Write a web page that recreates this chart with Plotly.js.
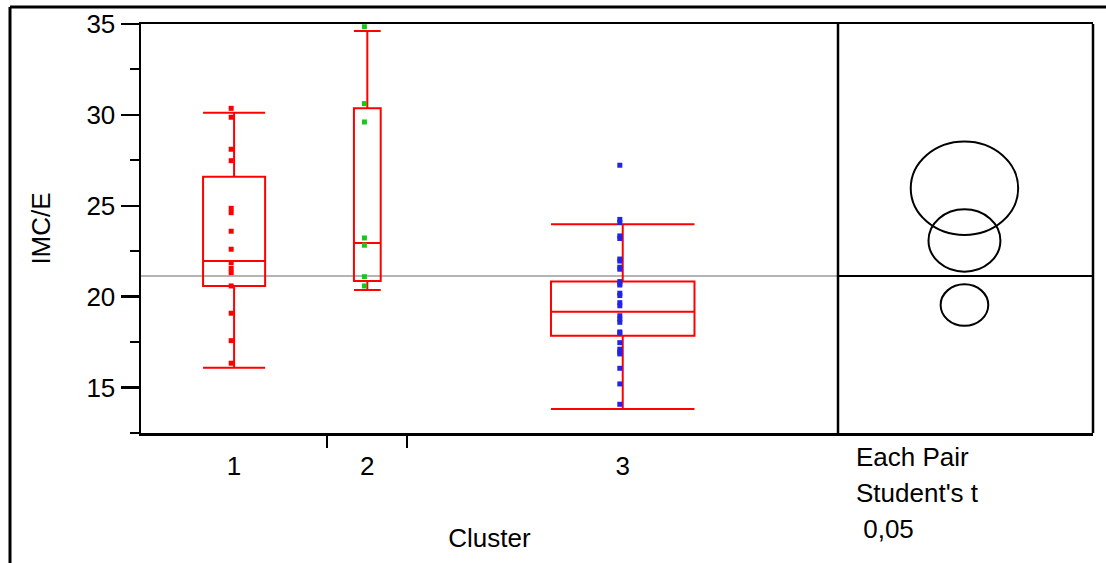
<!DOCTYPE html>
<html>
<head>
<meta charset="utf-8">
<script src="https://cdn.plot.ly/plotly-3.0.1.min.js"></script>
<style>html,body{margin:0;padding:0;background:#fff}#chart{width:1106px;height:563px}</style>
</head>
<body>
<div id="chart"></div>
<script>
// ---- data ----
const clusterLabels = ['1', '2', '3'];
const cluster1 = [30.36, 29.87, 28.11, 27.48, 24.86, 24.62, 23.60, 22.61, 21.87, 21.56, 21.32, 20.59, 19.09, 17.58, 16.34];
const cluster2 = [34.85, 30.62, 29.61, 23.23, 22.83, 21.10, 20.59];
const cluster3 = [27.23, 24.25, 24.08, 23.34, 23.20, 22.07, 21.96, 21.62, 21.51, 20.83, 20.73, 20.64,
                  20.19, 20.06, 19.67, 19.50, 18.95, 18.77, 18.59, 18.06, 18.00, 17.47, 17.11, 16.96,
                  16.85, 16.06, 15.20, 14.08];
const boxLower  = [16.09, 20.37, 13.82];
const boxQ1     = [20.59, 20.86, 17.85];
const boxMedian = [21.96, 22.95, 19.17];
const boxQ3     = [26.60, 30.36, 20.83];
const boxUpper  = [30.12, 34.61, 23.98];
const grandMean = 21.14;
const circleMeans = [23.09, 25.96, 19.54];
const circleRadii = [1.72, 2.57, 1.14];
const yTickVals = [15, 20, 25, 30, 35];
const noteLines = ['Each Pair', "Student's t", ' 0,05'];

// ---- layout config ----
const groupSpan = [16, 6.9, 37];   // relative width of each category (JMP proportional widths)
const pointColors = ['#ff0000', '#18c818', '#2424e6'];
const boxColor = '#ff0000';
const font = '"Liberation Sans", Arial, sans-serif';
const fs = 26;
const divide = (838 - 141) / 952;
const x2Range = [0, 12.2];
const circleX = 6.05;
const xAspect = 1.0;

const groups = [cluster1, cluster2, cluster3];
const starts = [], centers = [];
let acc = 0;
groupSpan.forEach(w => { starts.push(acc); centers.push(acc + w / 2); acc += w; });
const total = acc;
const pointShift = -0.25;

const data = [];
groups.forEach((g, i) => {
  data.push({
    type: 'box', x: [centers[i]], q1: [boxQ1[i]], median: [boxMedian[i]], q3: [boxQ3[i]],
    lowerfence: [boxLower[i]], upperfence: [boxUpper[i]],
    width: groupSpan[i] / 3, whiskerwidth: 1,
    line: {color: boxColor, width: 2}, fillcolor: 'rgba(0,0,0,0)',
    boxpoints: false, hoverinfo: 'skip', xaxis: 'x', yaxis: 'y'
  });
  data.push({
    type: 'scatter', mode: 'markers', x: g.map(() => centers[i] + pointShift), y: g,
    marker: {symbol: 'square', size: 5, color: pointColors[i], line: {width: 0}},
    xaxis: 'x', yaxis: 'y', hoverinfo: 'skip'
  });
});
data.push({type: 'scatter', mode: 'markers', x: [circleX], y: [grandMean], xaxis: 'x2', yaxis: 'y',
  marker: {opacity: 0}, hoverinfo: 'skip'});

const shapes = [];
shapes.push({type: 'line', xref: 'x', yref: 'y', x0: 0, x1: total, y0: grandMean, y1: grandMean,
  line: {color: '#b4b4b4', width: 2}, layer: 'below'});
shapes.push({type: 'line', xref: 'x2', yref: 'y', x0: x2Range[0], x1: x2Range[1], y0: grandMean, y1: grandMean,
  line: {color: '#000', width: 2}});
circleMeans.forEach((m, i) => {
  const r = circleRadii[i];
  shapes.push({type: 'circle', xref: 'x2', yref: 'y',
    x0: circleX - r * xAspect, x1: circleX + r * xAspect, y0: m - r, y1: m + r,
    line: {color: '#000', width: 2}});
});
shapes.push({type: 'line', xref: 'paper', yref: 'paper', x0: divide, x1: divide, y0: 0, y1: 1, line: {color: '#000', width: 2.5}});
shapes.push({type: 'line', xref: 'paper', yref: 'paper', x0: 1, x1: 1, y0: 0, y1: 1, line: {color: '#000', width: 2.5}});
const fx = (10 - 141) / 952, fy = 1 + (24 - 7) / 409;
shapes.push({type: 'line', xref: 'paper', yref: 'paper', x0: fx, x1: 1.02, y0: fy, y1: fy, line: {color: '#000', width: 3}});
shapes.push({type: 'line', xref: 'paper', yref: 'paper', x0: fx, x1: fx, y0: fy, y1: -0.4, line: {color: '#000', width: 3}});

const annotations = noteLines.map((t, i) => ({
  text: t, xref: 'paper', yref: 'paper', x: (854 - 141) / 952, y: 1 - (457 + i * 36 - 24) / 409,
  xanchor: 'left', yanchor: 'middle', showarrow: false, font: {family: font, size: fs, color: '#000'}
}));

const layout = {
  width: 1106, height: 563,
  margin: {l: 141, r: 13, t: 24, b: 130, pad: 0},
  paper_bgcolor: '#fff', plot_bgcolor: '#fff',
  showlegend: false,
  font: {family: font, size: fs, color: '#000'},
  xaxis: {
    domain: [0, divide], range: [0, total], showgrid: false, zeroline: false,
    showline: true, mirror: true, linecolor: '#000', linewidth: 2.5,
    tickmode: 'array', tickvals: centers, ticktext: clusterLabels, ticks: '',
    ticklabelstandoff: 8, tickfont: {size: fs},
    minor: {tickmode: 'array', tickvals: starts.slice(1), ticks: 'outside', ticklen: 12, tickwidth: 2, tickcolor: '#000', showgrid: false},
    title: {text: 'Cluster', font: {size: fs}, standoff: 49}
  },
  xaxis2: {
    domain: [divide, 1], range: x2Range, showgrid: false, zeroline: false,
    showline: true, mirror: true, linecolor: '#000', linewidth: 2.5, showticklabels: false, ticks: ''
  },
  yaxis: {
    range: [12.5, 35], showgrid: false, zeroline: false, showline: true, linecolor: '#000', linewidth: 2.5,
    tickmode: 'array', tickvals: yTickVals, ticks: 'outside', ticklen: 18, tickwidth: 2.5, tickcolor: '#000',
    tickfont: {size: fs},
    minor: {dtick: 2.5, ticks: 'outside', ticklen: 9, tickwidth: 2, tickcolor: '#000', showgrid: false},
    title: {text: 'IMC/E', font: {size: fs}, standoff: 29}
  },
  shapes: shapes,
  annotations: annotations
};

Plotly.newPlot('chart', data, layout, {staticPlot: true, displayModeBar: false});
</script>
</body>
</html>
